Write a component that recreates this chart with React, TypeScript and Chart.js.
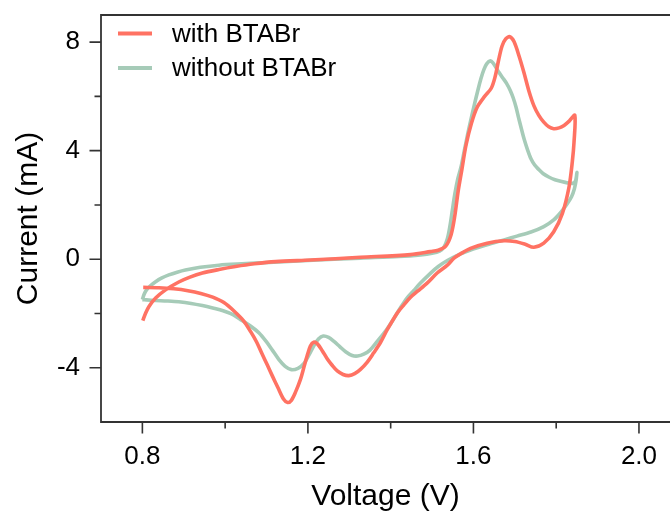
import React, { useEffect, useRef } from 'react';
import { Chart, registerables } from 'chart.js';

Chart.register(...registerables);

// ---- data ----
const seriesLabels = ['with BTABr', 'without BTABr'];

const redV = [
  0.801, 0.808, 0.816, 0.832, 0.856, 0.888, 0.915, 0.945, 0.985, 1.025, 1.07, 1.122, 1.206, 1.327, 1.448,
  1.496, 1.515, 1.533, 1.546, 1.555, 1.563, 1.572, 1.582, 1.595, 1.609, 1.627, 1.643, 1.652, 1.661, 1.669,
  1.678, 1.688, 1.698, 1.71, 1.722, 1.734, 1.746, 1.758, 1.77, 1.782, 1.794, 1.807, 1.819, 1.832, 1.845,
  1.843, 1.839, 1.831, 1.815, 1.794, 1.77, 1.746, 1.725, 1.7, 1.674, 1.633, 1.593, 1.569, 1.553, 1.537,
  1.513, 1.488, 1.465, 1.448, 1.432, 1.416, 1.392, 1.375, 1.359, 1.343, 1.327, 1.313, 1.299, 1.285, 1.271,
  1.258, 1.247, 1.235, 1.223, 1.214, 1.206, 1.198, 1.19, 1.182, 1.17, 1.16, 1.151, 1.141, 1.128, 1.114,
  1.102, 1.088, 1.076, 1.062, 1.045, 1.022, 0.997, 0.97, 0.941, 0.91, 0.876, 0.84, 0.802,
];
const redI = [
  -2.26, -1.98, -1.74, -1.43, -1.13, -0.84, -0.66, -0.51, -0.38, -0.27, -0.17, -0.09, -0.03, 0.07, 0.17,
  0.28, 0.33, 0.48, 0.9, 1.6, 2.5, 3.3, 4.2, 5.0, 5.6, 6.0, 6.3, 6.7, 7.35, 7.85,
  8.12, 8.2, 8.02, 7.5, 6.88, 6.2, 5.66, 5.3, 5.05, 4.88, 4.81, 4.84, 4.93, 5.1, 5.3,
  4.3, 3.6, 2.66, 1.69, 1.01, 0.59, 0.44, 0.55, 0.65, 0.68, 0.59, 0.4, 0.2, 0.04, -0.22,
  -0.5, -0.88, -1.18, -1.4, -1.68, -1.98, -2.59, -3.08, -3.45, -3.8, -4.06, -4.22, -4.29, -4.25, -4.12,
  -3.9, -3.68, -3.38, -3.12, -3.06, -3.2, -3.57, -4.0, -4.43, -4.9, -5.2, -5.28, -5.15, -4.75, -4.3,
  -3.9, -3.45, -3.05, -2.68, -2.28, -1.92, -1.6, -1.4, -1.26, -1.16, -1.09, -1.05, -1.04,
];

const greenV = [
  0.8, 0.804, 0.81, 0.82, 0.832, 0.846, 0.864, 0.884, 0.904, 0.94, 0.985, 1.04, 1.106, 1.2, 1.327,
  1.42, 1.472, 1.5, 1.518, 1.529, 1.537, 1.543, 1.549, 1.555, 1.562, 1.57, 1.578, 1.586, 1.594, 1.602,
  1.61, 1.618, 1.625, 1.632, 1.641, 1.648, 1.655, 1.662, 1.67, 1.68, 1.689, 1.696, 1.703, 1.709, 1.716,
  1.723, 1.731, 1.739, 1.748, 1.757, 1.768, 1.782, 1.797, 1.813, 1.828, 1.841, 1.847, 1.85,
  1.848, 1.844, 1.837, 1.827, 1.812, 1.794, 1.77, 1.739, 1.705, 1.674, 1.633, 1.593, 1.565, 1.537, 1.515,
  1.496, 1.472, 1.456, 1.44, 1.424, 1.408, 1.39, 1.368, 1.35, 1.335, 1.32, 1.307, 1.292, 1.277, 1.263,
  1.25, 1.237, 1.226, 1.215, 1.203, 1.19, 1.176, 1.16, 1.145, 1.13, 1.114, 1.1, 1.082, 1.062, 1.041,
  1.02, 0.995, 0.97, 0.945, 0.918, 0.888, 0.86, 0.832, 0.81, 0.8,
];
const greenI = [
  -1.49, -1.3, -1.13, -0.97, -0.83, -0.7, -0.58, -0.48, -0.4, -0.3, -0.22, -0.17, -0.12, -0.05, 0.04,
  0.1, 0.16, 0.22, 0.3, 0.45, 0.75, 1.2, 1.8, 2.4, 2.95, 3.4, 4.0, 4.6, 5.15, 5.68,
  6.18, 6.65, 6.98, 7.2, 7.31, 7.22, 7.05, 6.88, 6.7, 6.48, 6.22, 5.95, 5.6, 5.22, 4.8,
  4.4, 4.02, 3.7, 3.47, 3.32, 3.16, 3.03, 2.93, 2.86, 2.81, 2.8, 2.9, 3.2,
  2.9, 2.6, 2.3, 2.05, 1.74, 1.45, 1.2, 1.0, 0.85, 0.71, 0.53, 0.34, 0.17, -0.05, -0.27,
  -0.52, -0.88, -1.15, -1.42, -1.78, -2.18, -2.6, -3.02, -3.35, -3.5, -3.57, -3.55, -3.42, -3.22, -3.03,
  -2.88, -2.83, -2.93, -3.17, -3.52, -3.85, -4.02, -4.07, -3.95, -3.7, -3.35, -3.05, -2.72, -2.47, -2.26,
  -2.05, -1.9, -1.8, -1.71, -1.63, -1.57, -1.54, -1.52, -1.5, -1.49,
];

const xMajorTicks = [0.8, 1.2, 1.6, 2.0];
const xMinorTicks = [1.0, 1.4, 1.8];
const yMajorTicks = [-4, 0, 4, 8];
const yMinorTicks = [-2, 2, 6];

// ---- styles ----
const RED = '#FF7263';
const GREEN = '#A6CBB8';
const AXIS = '#333333';
const FONT = "'Liberation Sans', Arial, sans-serif";

const toPoints = (xs: number[], ys: number[]) => xs.map((x, i) => ({ x, y: ys[i] }));

const framePlugin = {
  id: 'frameAndTicks',
  afterDraw(chart: any) {
    const { ctx, chartArea, scales } = chart;
    const { left, right, top, bottom } = chartArea;
    const xs = scales.x;
    const ys = scales.y;
    ctx.save();
    ctx.strokeStyle = AXIS;
    ctx.lineWidth = 1.8;
    ctx.beginPath();
    ctx.moveTo(right, top);
    ctx.lineTo(left, top);
    ctx.lineTo(left, bottom);
    ctx.lineTo(right, bottom);
    ctx.stroke();
    ctx.lineWidth = 1.6;
    ctx.beginPath();
    const MAJ = 11.5;
    const MIN = 6.5;
    xMajorTicks.forEach((v) => {
      const p = xs.getPixelForValue(v);
      ctx.moveTo(p, bottom);
      ctx.lineTo(p, bottom + MAJ);
    });
    xMinorTicks.forEach((v) => {
      const p = xs.getPixelForValue(v);
      ctx.moveTo(p, bottom);
      ctx.lineTo(p, bottom + MIN);
    });
    yMajorTicks.forEach((v) => {
      const p = ys.getPixelForValue(v);
      ctx.moveTo(left, p);
      ctx.lineTo(left - MAJ, p);
    });
    yMinorTicks.forEach((v) => {
      const p = ys.getPixelForValue(v);
      ctx.moveTo(left, p);
      ctx.lineTo(left - MIN, p);
    });
    ctx.stroke();

    // legend inside plot area
    ctx.font = `26px ${FONT}`;
    ctx.textBaseline = 'middle';
    ctx.textAlign = 'left';
    chart.data.datasets.forEach((ds: any, i: number) => {
      const y = top + 18.5 + i * 34.4;
      const x0 = left + 17;
      ctx.strokeStyle = ds.borderColor;
      ctx.lineWidth = 4;
      ctx.beginPath();
      ctx.moveTo(x0, y);
      ctx.lineTo(x0 + 34, y);
      ctx.stroke();
      ctx.fillStyle = '#000';
      ctx.fillText(ds.label, x0 + 54, y + 1);
    });
    ctx.restore();
  },
};

export default function App() {
  const ref = useRef<HTMLCanvasElement>(null);

  useEffect(() => {
    if (!ref.current) return;
    const chart = new Chart(ref.current, {
      type: 'scatter',
      data: {
        datasets: [
          {
            label: seriesLabels[0],
            data: toPoints(redV, redI),
            borderColor: RED,
            backgroundColor: RED,
            showLine: true,
            pointRadius: 0,
            borderWidth: 3.6,
            tension: 0.3,
            fill: false,
          },
          {
            label: seriesLabels[1],
            data: toPoints(greenV, greenI),
            borderColor: GREEN,
            backgroundColor: GREEN,
            showLine: true,
            pointRadius: 0,
            borderWidth: 3.6,
            tension: 0.3,
            fill: false,
          },
        ],
      },
      options: {
        responsive: false,
        maintainAspectRatio: false,
        animation: false,
        layout: { padding: { top: 15, left: 0, right: 0, bottom: 0 } },
        plugins: { legend: { display: false }, tooltip: { enabled: false } },
        scales: {
          x: {
            type: 'linear',
            min: 0.7,
            max: 2.075,
            grid: { display: false, drawTicks: false },
            border: { display: false },
            afterBuildTicks: (s: any) => {
              s.ticks = xMajorTicks.map((v) => ({ value: v }));
            },
            afterFit: (s: any) => {
              s.height = 93;
              s.paddingLeft = 0;
              s.paddingRight = 0;
            },
            ticks: {
              autoSkip: false,
              maxRotation: 0,
              padding: 19,
              color: '#000',
              font: { family: FONT, size: 26 },
              callback: (v: any) => Number(v).toFixed(1),
            },
            title: {
              display: true,
              text: 'Voltage (V)',
              color: '#000',
              font: { family: FONT, size: 30 },
              padding: { top: 0, bottom: 0 },
            },
          },
          y: {
            type: 'linear',
            min: -6,
            max: 9,
            grid: { display: false, drawTicks: false },
            border: { display: false },
            afterBuildTicks: (s: any) => {
              s.ticks = yMajorTicks.map((v) => ({ value: v }));
            },
            afterFit: (s: any) => {
              s.width = 101;
              s.paddingTop = 0;
              s.paddingBottom = 0;
            },
            ticks: {
              autoSkip: false,
              padding: 21,
              color: '#000',
              font: { family: FONT, size: 26 },
              callback: (v: any) => String(v),
            },
            title: {
              display: true,
              text: 'Current (mA)',
              color: '#000',
              font: { family: FONT, size: 30 },
              padding: { top: 11, bottom: 0 },
            },
          },
        },
      },
      plugins: [framePlugin],
    } as any);
    return () => chart.destroy();
  }, []);

  return (
    <div style={{ position: 'fixed', left: 0, top: 0, width: 670, height: 515, background: '#fff', overflow: 'hidden' }}>
      <canvas ref={ref} width={670} height={515} style={{ display: 'block' }} />
    </div>
  );
}
